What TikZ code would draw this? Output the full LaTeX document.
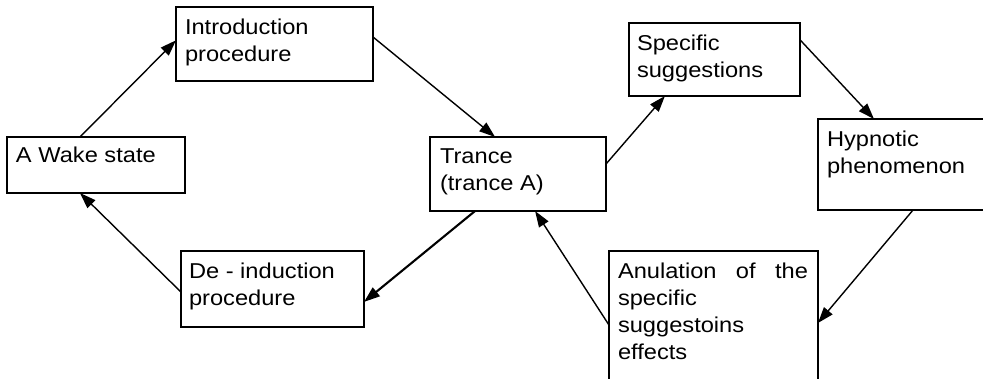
\documentclass[tikz,border=0pt]{standalone}
\usepackage{fontspec}
\setmainfont{Liberation Sans}[FakeStretch=1.1]
\usetikzlibrary{arrows.meta,calc}
\begin{document}
\begin{tikzpicture}[x=1pt,y=1pt,
  box/.style={draw,line width=2pt,rectangle,inner sep=0pt,outer sep=0pt,anchor=north west},
  txt/.style={anchor=north west,inner sep=0pt,outer sep=0pt,align=left,font=\fontsize{21.5}{27}\selectfont},
  arr/.style={line width=1.4pt,-{Triangle[length=16pt,width=11pt]}}]
\useasboundingbox (0,0) rectangle (983,-378);
\clip (0,0) rectangle (983,-378);
% boxes
\node[box,minimum width=197pt,minimum height=74pt] (intro) at (176,-7) {};
\node[box,minimum width=178pt,minimum height=56pt] (wake) at (7,-137) {};
\node[box,minimum width=176pt,minimum height=74pt] (trance) at (430,-137) {};
\node[box,minimum width=171pt,minimum height=73pt] (spec) at (629,-23) {};
\node[box,minimum width=180pt,minimum height=91pt] (hyp) at (818,-119) {};
\node[box,minimum width=183pt,minimum height=76pt] (dein) at (181,-251) {};
\node[box,minimum width=209pt,minimum height=140pt] (anul) at (609,-251) {};
% texts
\node[txt] (introt) at ($(intro.north west)+(9,-8.6)$) {\strut Introduction\\procedure};
\node[txt] (waket) at ($(wake.north west)+(9,-7)$) {\strut A Wake state};
\node[txt] (trancet) at ($(trance.north west)+(10,-7.6)$) {\strut Trance\\(trance A)};
\node[txt] (spect) at ($(spec.north west)+(8,-8.6)$) {\strut Specific\\suggestions};
\node[txt] (hypt) at ($(hyp.north west)+(9,-8.6)$) {\strut Hypnotic\\phenomenon};
\node[txt] (deint) at ($(dein.north west)+(8,-8.6)$) {\strut De - induction\\procedure};
\node[txt,text width=190pt] (anult) at ($(anul.north west)+(9,-8.1)$) {\strut Anulation\hfill of\hfill the\\specific\\suggestoins\\effects};
% arrows
\draw[arr] ($(wake.north west)!0.41!(wake.north east)$) -- ($(intro.north west)!0.45!(intro.south west)$);
\draw[arr] ($(intro.north east)!0.405!(intro.south east)$) -- ($(trance.north west)!0.37!(trance.north east)$);
\draw[arr] ($(trance.north east)!0.365!(trance.south east)$) -- ($(spec.south west)!0.21!(spec.south east)$);
\draw[arr] ($(spec.north east)!0.23!(spec.south east)$) -- ($(hyp.north west)!0.311!(hyp.north east)$);
\draw[arr] ($(hyp.south west)!0.528!(hyp.south east)$) -- ($(anul.north east)!0.514!(anul.south east)$);
\draw[arr] ($(anul.north west)!0.529!(anul.south west)$) -- ($(trance.south west)!0.597!(trance.south east)$);
\draw[arr,line width=2.1pt] ($(trance.south west)!0.256!(trance.south east)$) -- ($(dein.north east)!0.67!(dein.south east)$);
\draw[arr] ($(dein.north west)!0.54!(dein.south west)$) -- ($(wake.south west)!0.41!(wake.south east)$);
\end{tikzpicture}
\end{document}
